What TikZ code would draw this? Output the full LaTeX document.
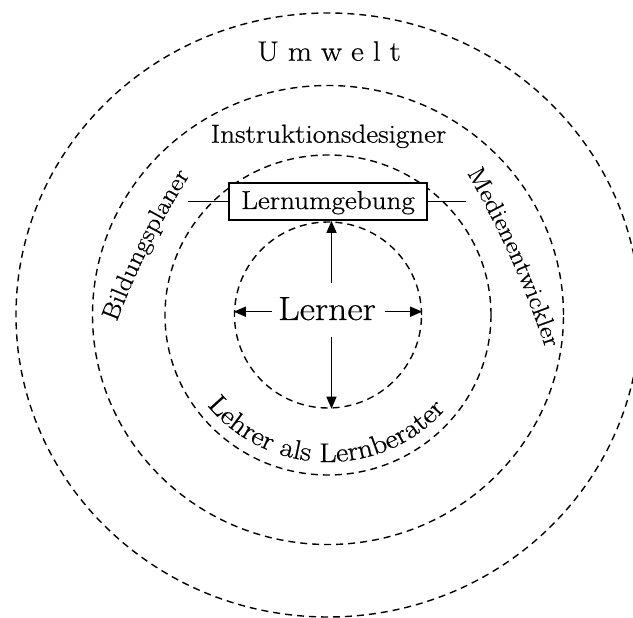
\documentclass[tikz,border=0pt]{standalone}
\usepackage{fontspec}
\setmainfont[FakeStretch=1.12,FakeBold=0.6]{Latin Modern Roman}
\usetikzlibrary{arrows.meta,decorations.text,shapes.geometric}
\newcommand\lblfont{\fontsize{26}{26}\selectfont}
\newcommand\sidefont{\fontsize{24.5}{24.5}\selectfont}
\newcommand\arcfont{\fontsize{27}{27}\selectfont}
\begin{document}
\begin{tikzpicture}[x=1pt,y=1pt,
  ring/.style={draw, dash pattern=on 7pt off 5pt, line width=1.4pt},
  arr/.style={line width=1.5pt, -{Triangle[length=12pt,width=10pt]}},
  thin line/.style={line width=1.5pt}]
\useasboundingbox (-328,-303) rectangle (305,315);
\clip (-328,-303) rectangle (305,315);
% rings
\draw[ring] (0,0) ellipse [x radius=312, y radius=302];
\draw[ring] (0,0) ellipse [x radius=235.5, y radius=229.5];
\draw[ring] (0,0) ellipse [x radius=163, y radius=160];
\node[ring, ellipse, minimum width=187pt, minimum height=186pt, inner sep=0pt] (inner) at (0,0) {};
% texts
\node[font=\fontsize{28}{28}\selectfont, anchor=base] (umwelt) at (1,254.3)
  {U\hspace{9pt}m\hspace{9pt}w\hspace{9pt}e\hspace{9pt}l\hspace{9pt}t};
\node[font=\lblfont, anchor=base] (instr) at (0.5,172.3) {Instruktionsdesigner};
\node[draw, line width=1.8pt, fill=white, minimum width=198pt, minimum height=37pt,
  inner sep=0pt, text height=17.5pt, text depth=2.5pt, font=\lblfont] (box) at (0,113.5) {Lernumgebung};
\coordinate (lL) at (-140,113.5);
\coordinate (lR) at (138,113.5);
\draw[thin line] (lL) -- (box.west);
\draw[thin line] (box.east) -- (lR);
\node[font=\fontsize{33.5}{33.5}\selectfont, anchor=base] (lerner) at (-1,-5) {Lerner};
% arrows
\coordinate (aL) at (-56,3.3);
\coordinate (aR) at (57,3.3);
\coordinate (aU) at (3.5,32);
\coordinate (aD) at (3.5,-22);
\draw[arr] (aL) -- (aL -| inner.west);
\draw[arr] (aR) -- (aR -| inner.east);
\draw[arr] (aU) -- (aU |- box.south);
\draw[arr] (aD) -- (aD |- inner.south);
% curved labels
\path[decorate, decoration={text along path, text align=center,
  text={|\sidefont|Bildungsplaner}}] (-218.75,-26.4) to[bend left=6] (-127.25,157.4);
\path[decorate, decoration={text along path, text align=center,
  text={|\sidefont|Medienentwickler}}] (127.8,161.65) to[bend left=6] (224.7,-55.15);
\path[decorate, decoration={text along path, text align=center,
  text={|\arcfont|Lehrer als Lernberater}}] (194:153 and 147) arc[start angle=194, end angle=344, x radius=153, y radius=147];
\end{tikzpicture}
\end{document}
